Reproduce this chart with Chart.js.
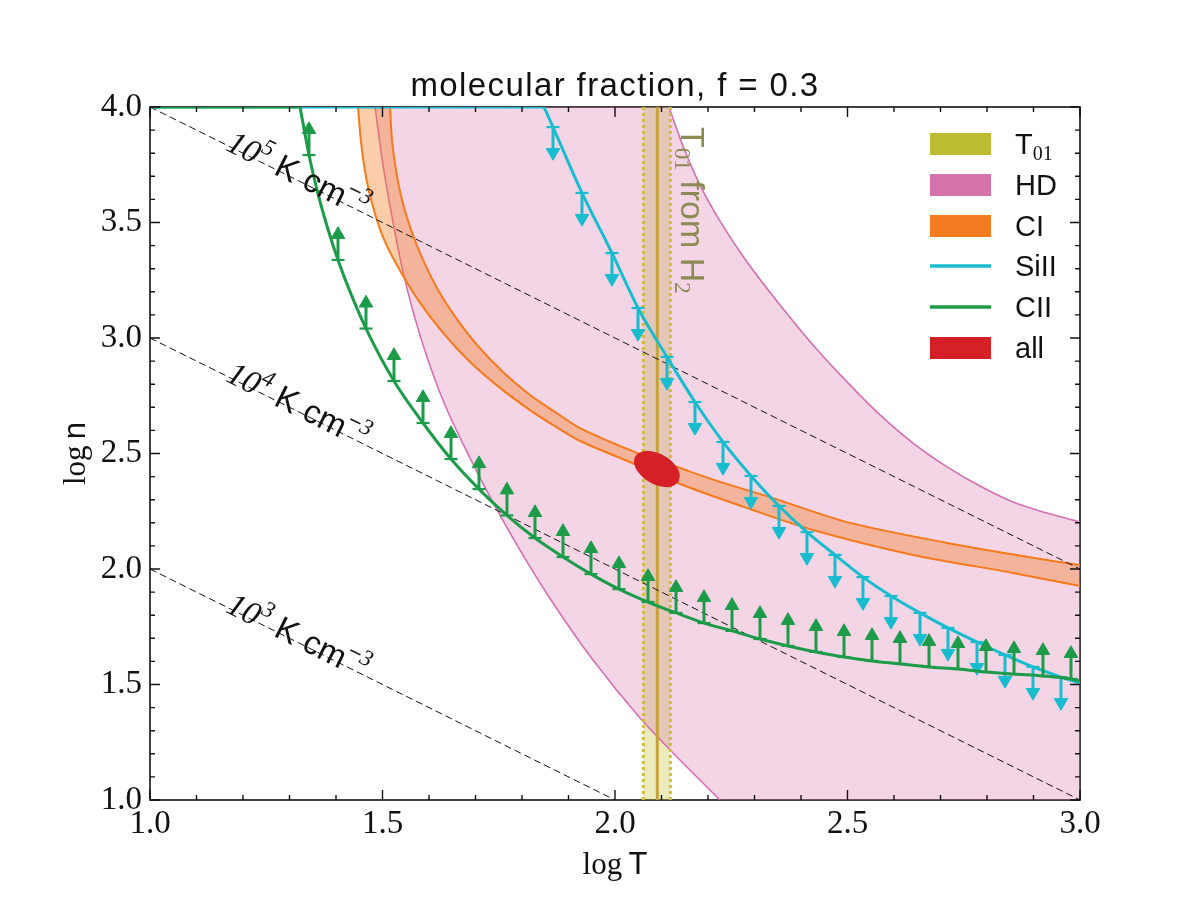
<!DOCTYPE html>
<html>
<head>
<meta charset="utf-8">
<title>molecular fraction, f = 0.3</title>
<script src="https://cdn.jsdelivr.net/npm/chart.js@4.4.1/dist/chart.umd.min.js"></script>
<style>
html,body{margin:0;padding:0;background:#ffffff;}
canvas{display:block;}
</style>
</head>
<body>
<canvas id="chart" width="1200" height="900"></canvas>
<script>
// ---------------- axes ----------------
const xRange = [1.0, 3.0];
const yRange = [1.0, 4.0];
const xTickLabels = ['1.0', '1.5', '2.0', '2.5', '3.0'];
const yTickLabels = ['1.0', '1.5', '2.0', '2.5', '3.0', '3.5', '4.0'];

// ---------------- HD band (two boundaries) ----------------
const hdLeftT  = [1.4839, 1.5011, 1.5204, 1.5419, 1.5677, 1.5978, 1.6344, 1.6774, 1.7312, 1.7957, 1.8667, 1.9527, 2.0538, 2.1398, 2.2258];
const hdLeftN  = [4.000, 3.749, 3.524, 3.307, 3.100, 2.905, 2.710, 2.524, 2.312, 2.082, 1.853, 1.606, 1.355, 1.173, 1.000];
const hdRightT = [2.1161, 2.1462, 2.1828, 2.2258, 2.2839, 2.3548, 2.4258, 2.4989, 2.5699, 2.6409, 2.7140, 2.7849, 2.8559, 2.9290, 3.0];
const hdRightN = [4.000, 3.831, 3.662, 3.506, 3.329, 3.143, 2.970, 2.810, 2.667, 2.545, 2.442, 2.359, 2.290, 2.242, 2.203];

// ---------------- CI band ----------------
const ciUpperT = [1.5161, 1.5204, 1.5290, 1.5419, 1.5613, 1.5871, 1.6194, 1.6581, 1.7054, 1.7591, 1.8172, 1.8774, 1.9247, 2.0430, 2.1398, 2.2258, 2.3398, 2.4989, 2.7140, 2.9290, 3.0];
const ciUpperN = [4.000, 3.857, 3.727, 3.597, 3.468, 3.338, 3.208, 3.087, 2.965, 2.853, 2.753, 2.671, 2.610, 2.506, 2.437, 2.377, 2.307, 2.203, 2.113, 2.039, 2.017];
const ciLowerT = [1.4473, 1.4538, 1.4645, 1.4796, 1.5011, 1.5333, 1.5763, 1.6301, 1.6882, 1.7527, 1.8172, 1.8774, 1.9247, 2.0473, 2.1398, 2.2839, 2.4258, 2.6409, 2.8559, 3.0];
const ciLowerN = [4.000, 3.848, 3.697, 3.567, 3.437, 3.307, 3.165, 3.022, 2.896, 2.784, 2.688, 2.610, 2.554, 2.450, 2.368, 2.264, 2.169, 2.061, 1.983, 1.926];

// ---------------- SiII upper limit (flat part clipped at top, then curve) ----------------
const siiFlatT = [1.0, 1.8473];
const siiFlatN = [4.0, 4.0];
const siiT = [1.8473, 1.8667, 1.9290, 1.9935, 2.0495, 2.1118, 2.1720, 2.2323, 2.2925, 2.3527, 2.4129, 2.4731, 2.5333, 2.5935, 2.6559, 2.7161, 2.7785, 2.8387, 2.8989, 2.9591, 3.0];
const siiN = [4.000, 3.913, 3.628, 3.368, 3.130, 2.918, 2.723, 2.550, 2.403, 2.273, 2.160, 2.061, 1.965, 1.883, 1.810, 1.745, 1.684, 1.628, 1.576, 1.532, 1.506];
const siiArrowT = [1.8667, 1.9290, 1.9935, 2.0495, 2.1118, 2.1720, 2.2323, 2.2925, 2.3527, 2.4129, 2.4731, 2.5333, 2.5935, 2.6559, 2.7161, 2.7785, 2.8387, 2.8989, 2.9591];
const siiArrowN = [3.913, 3.628, 3.368, 3.130, 2.918, 2.723, 2.550, 2.403, 2.273, 2.160, 2.061, 1.965, 1.883, 1.810, 1.745, 1.684, 1.628, 1.576, 1.532];

// ---------------- CII lower limit (flat part clipped at top, then curve) ----------------
const ciiFlatT = [1.0, 1.3226];
const ciiFlatN = [4.0, 4.0];
const ciiT = [1.3226, 1.3419, 1.3591, 1.3806, 1.4043, 1.4344, 1.4645, 1.5247, 1.5871, 1.6473, 1.7075, 1.7677, 1.8280, 1.8882, 1.9484, 2.0086, 2.0710, 2.1312, 2.1914, 2.2516, 2.3118, 2.3720, 2.4323, 2.4925, 2.5527, 2.6129, 2.6753, 2.7376, 2.7978, 2.8581, 2.9204, 2.9806, 3.0];
const ciiN = [4.000, 3.792, 3.641, 3.485, 3.338, 3.180, 3.041, 2.814, 2.632, 2.476, 2.346, 2.232, 2.134, 2.052, 1.978, 1.913, 1.857, 1.810, 1.766, 1.732, 1.697, 1.667, 1.641, 1.619, 1.602, 1.589, 1.576, 1.567, 1.554, 1.545, 1.537, 1.524, 1.515];
const ciiArrowT = [1.3419, 1.4043, 1.4645, 1.5247, 1.5871, 1.6473, 1.7075, 1.7677, 1.8280, 1.8882, 1.9484, 2.0086, 2.0710, 2.1312, 2.1914, 2.2516, 2.3118, 2.3720, 2.4323, 2.4925, 2.5527, 2.6129, 2.6753, 2.7376, 2.7978, 2.8581, 2.9204, 2.9806];
const ciiArrowN = [3.792, 3.338, 3.041, 2.814, 2.632, 2.476, 2.346, 2.232, 2.134, 2.052, 1.978, 1.913, 1.857, 1.810, 1.766, 1.732, 1.697, 1.667, 1.641, 1.619, 1.602, 1.589, 1.576, 1.567, 1.554, 1.545, 1.537, 1.524];

// ---------------- combined ("all") contour ----------------
const allT = [2.1370, 2.1226, 2.0996, 2.0742, 2.0531, 2.0419, 2.0437, 2.0581, 2.0811, 2.1065, 2.1275, 2.1387, 2.1370];
const allN = [2.3788, 2.3580, 2.3571, 2.3766, 2.4113, 2.4515, 2.4870, 2.5078, 2.5087, 2.4892, 2.4545, 2.4143, 2.3788];

// ---------------- T01 from H2 ----------------
const t01Center = 2.091;
const t01Lo = 2.061;
const t01Hi = 2.119;

// ---------------- isobars log(nT) ----------------
const isobarConst = [3, 4, 5];

// ---------------- legend ----------------
const legendLabels = ['T01', 'HD', 'CI', 'SiII', 'CII', 'all'];

// ---------------- styling ----------------
const SANS = "'Liberation Sans', Arial, sans-serif";
const SERIF = "'Liberation Serif', 'Times New Roman', serif";
const COL = {
  t01: '#bcbc33', t01Fill: 'rgba(188,189,40,0.30)', t01Line: '#c5a23b', t01Dot: '#cdbd3a',
  hd: '#d673ad', hdFill: 'rgba(214,115,173,0.30)', hdLine: '#d46fb0',
  ci: '#f47b20', ciFill: 'rgba(244,124,32,0.38)', ciLine: '#f77a1a',
  sii: '#17bccf', cii: '#1c9b49', all: '#d62027'
};
const ARROW = 0.11;

const pts = (T, N) => T.map((t, i) => ({ x: t, y: N[i] }));
function stems(T, N, len) {
  const out = [];
  T.forEach((t, i) => { out.push({ x: t, y: N[i] }, { x: t, y: N[i] + len }, { x: t, y: null }); });
  return out;
}
const shift = (T, N, d) => T.map((t, i) => ({ x: t, y: N[i] + d }));

const hdPoly = pts(hdLeftT, hdLeftN).concat([{ x: xRange[1], y: yRange[0] }], pts(hdRightT, hdRightN).reverse());
const ciPoly = pts(ciUpperT, ciUpperN).concat(pts(ciLowerT, ciLowerN).reverse());
const t01Poly = [{ x: t01Lo, y: yRange[0] }, { x: t01Hi, y: yRange[0] }, { x: t01Hi, y: yRange[1] }, { x: t01Lo, y: yRange[1] }];
const vline = v => [{ x: v, y: yRange[0] }, { x: v, y: yRange[1] }];

function lineDS(data, color, width, order, extra) {
  return Object.assign({ data, showLine: true, borderColor: color, borderWidth: width, pointRadius: 0, fill: false, order, tension: 0 }, extra || {});
}
function fillDS(data, color, order, extra) {
  return Object.assign({ data, showLine: true, borderWidth: 0, borderColor: 'rgba(0,0,0,0)', backgroundColor: color, pointRadius: 0, fill: 'shape', order, tension: 0 }, extra || {});
}
function markDS(data, style, color, radius, rot, order, bw) {
  return { data, showLine: false, pointStyle: style, pointRadius: radius, pointRotation: rot, backgroundColor: color, borderColor: color, pointBorderWidth: bw, borderWidth: bw, order };
}
const smooth = { cubicInterpolationMode: 'monotone' };

const datasets = [
  fillDS(t01Poly, COL.t01Fill, 100),
  fillDS(hdPoly, COL.hdFill, 95),
  lineDS(pts(hdLeftT, hdLeftN), COL.hdLine, 1.6, 90, { tension: 0.3 }),
  lineDS(pts(hdRightT, hdRightN), COL.hdLine, 1.6, 90, { tension: 0.3 }),
  fillDS(ciPoly, COL.ciFill, 85),
  lineDS(pts(ciUpperT, ciUpperN), COL.ciLine, 2, 80, { tension: 0.3 }),
  lineDS(pts(ciLowerT, ciLowerN), COL.ciLine, 2, 80, { tension: 0.3 }),
  lineDS(vline(t01Lo), COL.t01Dot, 3, 75, { borderDash: [3, 3] }),
  lineDS(vline(t01Hi), COL.t01Dot, 3, 75, { borderDash: [3, 3] }),
  lineDS(vline(t01Center), COL.t01Line, 3, 75),
  ...isobarConst.map(c => lineDS([{ x: xRange[0], y: c - xRange[0] }, { x: xRange[1], y: c - xRange[1] }], '#111', 1, 70, { borderDash: [7, 4] })),
  lineDS(pts(siiFlatT, siiFlatN), COL.sii, 3, 61),
  lineDS(pts(siiT, siiN), COL.sii, 3, 60, smooth),
  lineDS(stems(siiArrowT, siiArrowN, -ARROW), COL.sii, 3, 59),
  markDS(pts(siiArrowT, siiArrowN), 'line', COL.sii, 6.5, 0, 58, 2.2),
  markDS(shift(siiArrowT, siiArrowN, -ARROW), 'triangle', COL.sii, 7.8, 180, 57, 1),
  lineDS(pts(ciiFlatT, ciiFlatN), COL.cii, 3, 51),
  lineDS(pts(ciiT, ciiN), COL.cii, 3, 50, smooth),
  lineDS(stems(ciiArrowT, ciiArrowN, ARROW), COL.cii, 3, 49),
  markDS(pts(ciiArrowT, ciiArrowN), 'line', COL.cii, 6.5, 0, 48, 2.2),
  markDS(shift(ciiArrowT, ciiArrowN, ARROW), 'triangle', COL.cii, 7.8, 0, 47, 1),
  fillDS(pts(allT, allN), COL.all, 40, { tension: 0.4 })
];

// ---------- helpers for mixed-font text ----------
function runsWidth(ctx, runs) {
  let w = 0;
  for (const r of runs) { ctx.font = r.font; w += ctx.measureText(r.t).width; }
  return w;
}
function drawRuns(ctx, runs, x, y) {
  for (const r of runs) {
    ctx.font = r.font;
    ctx.fillText(r.t, x, y + (r.dy || 0));
    x += ctx.measureText(r.t).width;
  }
  return x;
}

const framePlugin = {
  id: 'frame',
  beforeDatasetsDraw(chart) {
    const { ctx, chartArea: a } = chart;
    ctx.save();
    ctx.strokeStyle = '#111';
    ctx.lineWidth = 1.6;
    ctx.strokeRect(a.left, a.top, a.right - a.left, a.bottom - a.top);
    ctx.restore();
  },
  afterDatasetsDraw(chart) {
    const { ctx, chartArea: a } = chart;
    const xs = chart.scales.x, ys = chart.scales.y;
    ctx.save();
    ctx.strokeStyle = '#111';
    ctx.lineWidth = 1.4;
    ctx.beginPath();
    const nx = Math.round((xRange[1] - xRange[0]) / 0.1);
    for (let i = 0; i <= nx; i++) {
      const v = xRange[0] + i * 0.1;
      const len = (i % 5 === 0) ? 10 : 5;
      const p = xs.getPixelForValue(v);
      ctx.moveTo(p, a.bottom); ctx.lineTo(p, a.bottom - len);
      ctx.moveTo(p, a.top); ctx.lineTo(p, a.top + len);
    }
    const ny = Math.round((yRange[1] - yRange[0]) / 0.1);
    for (let i = 0; i <= ny; i++) {
      const v = yRange[0] + i * 0.1;
      const len = (i % 5 === 0) ? 10 : 5;
      const p = ys.getPixelForValue(v);
      ctx.moveTo(a.left, p); ctx.lineTo(a.left + len, p);
      ctx.moveTo(a.right, p); ctx.lineTo(a.right - len, p);
    }
    ctx.stroke();
    ctx.restore();
  }
};

const textPlugin = {
  id: 'texts',
  afterDraw(chart) {
    const { ctx, chartArea: a } = chart;
    const xs = chart.scales.x, ys = chart.scales.y;
    ctx.save();
    ctx.textBaseline = 'alphabetic';
    ctx.textAlign = 'left';

    // title
    ctx.fillStyle = '#111';
    const title = 'molecular fraction, f = 0.3';
    ctx.font = `33px ${SANS}`;
    ctx.letterSpacing = '1.4px';
    const tw = ctx.measureText(title).width;
    ctx.fillText(title, (a.left + a.right) / 2 - tw / 2, 96);
    ctx.letterSpacing = '0px';

    // x-axis title: log T
    const xr = [{ t: 'log', font: `31px ${SERIF}` }, { t: '\u2009T', font: `31px ${SANS}` }];
    const xw = runsWidth(ctx, xr);
    drawRuns(ctx, xr, (a.left + a.right) / 2 - xw / 2, 874);

    // y-axis title: log n
    const yr = [{ t: 'log', font: `31px ${SERIF}` }, { t: '\u2009n', font: `31px ${SANS}` }];
    const yw = runsWidth(ctx, yr);
    ctx.save();
    ctx.translate(85, (a.top + a.bottom) / 2);
    ctx.rotate(-Math.PI / 2);
    drawRuns(ctx, yr, -yw / 2, 0);
    ctx.restore();

    // isobar labels
    const t0 = 1.165;
    isobarConst.forEach(c => {
      const px = xs.getPixelForValue(t0), py = ys.getPixelForValue(c - t0);
      const ang = Math.atan2(ys.getPixelForValue(c - 1.5) - ys.getPixelForValue(c - 1.0), xs.getPixelForValue(1.5) - xs.getPixelForValue(1.0));
      ctx.save();
      ctx.translate(px, py);
      ctx.rotate(ang);
      ctx.fillStyle = '#111';
      drawRuns(ctx, [
        { t: '10', font: `italic 33px ${SERIF}` },
        { t: String(c), font: `italic 23px ${SERIF}`, dy: -14 },
        { t: ' K cm', font: `33px ${SANS}` },
        { t: '\u2212', font: `23px ${SANS}`, dy: -14 },
        { t: '3', font: `italic 23px ${SERIF}`, dy: -14 }
      ], 0, 5);
      ctx.restore();
    });

    // T01 from H2 label
    ctx.save();
    ctx.translate(xs.getPixelForValue(t01Hi) + 11, a.top + 20);
    ctx.rotate(Math.PI / 2);
    ctx.fillStyle = '#8b8a52';
    drawRuns(ctx, [
      { t: 'T', font: `34px ${SANS}` },
      { t: '01', font: `23px ${SERIF}`, dy: 6 },
      { t: ' from H', font: `34px ${SANS}` },
      { t: '2', font: `23px ${SERIF}`, dy: 6 }
    ], 0, 0);
    ctx.restore();

    // legend
    const rowY = [144, 185, 226, 266, 307, 348];
    const kinds = ['patch', 'patch', 'patch', 'line', 'line', 'patch'];
    const colors = [COL.t01, COL.hd, COL.ci, COL.sii, COL.cii, COL.all];
    const x0 = 930, w = 61, h = 22, tx = 1015;
    legendLabels.forEach((lab, i) => {
      const y = rowY[i];
      if (kinds[i] === 'patch') {
        ctx.fillStyle = colors[i];
        ctx.fillRect(x0, y - h / 2, w, h);
      } else {
        ctx.strokeStyle = colors[i];
        ctx.lineWidth = 3.5;
        ctx.beginPath(); ctx.moveTo(x0, y); ctx.lineTo(x0 + w, y); ctx.stroke();
      }
      ctx.fillStyle = '#111';
      if (lab === 'T01') {
        drawRuns(ctx, [{ t: 'T', font: `29px ${SANS}` }, { t: '01', font: `20px ${SERIF}`, dy: 6 }], tx, y + 10);
      } else {
        drawRuns(ctx, [{ t: lab, font: `29px ${SANS}` }], tx, y + 10);
      }
    });
    ctx.restore();
  }
};

const tickCb = labels => function (v) {
  const f = labels.find(l => Math.abs(parseFloat(l) - v) < 1e-6);
  return f === undefined ? '' : f;
};

new Chart(document.getElementById('chart').getContext('2d'), {
  type: 'scatter',
  data: { datasets },
  options: {
    responsive: false,
    animation: false,
    devicePixelRatio: 1,
    layout: { padding: { left: 0, right: 120, top: 107, bottom: 0 } },
    plugins: { legend: { display: false }, tooltip: { enabled: false }, title: { display: false } },
    scales: {
      x: {
        type: 'linear', position: 'bottom', min: xRange[0], max: xRange[1],
        grid: { display: false, drawTicks: false }, border: { display: false },
        ticks: { stepSize: 0.5, padding: 5, color: '#111', font: { family: SERIF, size: 33 }, maxRotation: 0, autoSkip: false, callback: tickCb(xTickLabels) },
        afterFit(s) { s.height = 100; }
      },
      y: {
        type: 'linear', position: 'left', min: yRange[0], max: yRange[1],
        grid: { display: false, drawTicks: false }, border: { display: false },
        ticks: { stepSize: 0.5, padding: 8, color: '#111', font: { family: SERIF, size: 33 }, autoSkip: false, callback: tickCb(yTickLabels) },
        afterFit(s) { s.width = 150; }
      }
    }
  },
  plugins: [framePlugin, textPlugin]
});
</script>
</body>
</html>
